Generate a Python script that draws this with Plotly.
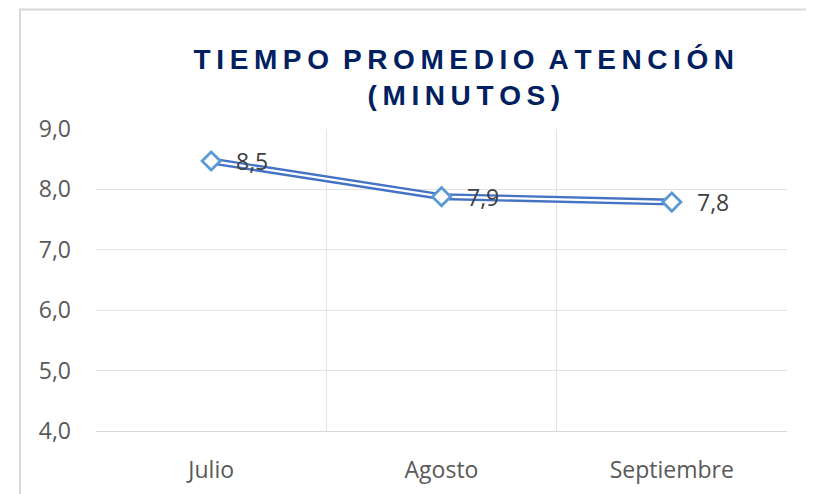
import plotly.graph_objects as go

# chart data
months = ["Julio", "Agosto", "Septiembre"]
avg_minutes = [8.47, 7.88, 7.79]
y_ticks = [4.0, 5.0, 6.0, 7.0, 8.0, 9.0]

TITLE_LINES = ["TIEMPO PROMEDIO ATENCIÓN", "(MINUTOS)"]


def spaced(text, gap="\u2009"):
    """Fake letter spacing with thin spaces between letters."""
    return gap.join(text).replace(gap + " " + gap, "\u2002")


fig = go.Figure()

# Excel "double" line: thick blue line with a thin white core
fig.add_trace(go.Scatter(
    x=months, y=avg_minutes, mode="lines",
    line=dict(color="#4472C4", width=7),
    hoverinfo="skip", showlegend=False,
))
fig.add_trace(go.Scatter(
    x=months, y=avg_minutes, mode="lines",
    line=dict(color="white", width=2.3),
    hoverinfo="skip", showlegend=False,
))
fig.add_trace(go.Scatter(
    x=months, y=avg_minutes, mode="markers",
    marker=dict(symbol="diamond", size=14, color="white",
                line=dict(color="#5B9BD5", width=2.8)),
    showlegend=False,
))

for m, v in zip(months, avg_minutes):
    fig.add_annotation(
        x=m, y=v, text=f"{v:.1f}".replace(".", ","),
        xanchor="left", yanchor="middle", xshift=23, showarrow=False,
        font=dict(family="Open Sans", size=23, color="#404040"),
    )

# outer chart frame (only top/left edges visible in the crop)
fig.add_shape(type="rect", xref="paper", yref="paper",
              x0=-0.11, x1=1.2, y0=-0.4, y1=1.396,
              line=dict(color="#D9D9D9", width=2), layer="below")

fig.update_layout(
    width=814, height=494,
    margin=dict(l=88, r=35, t=121, b=71),
    paper_bgcolor="white", plot_bgcolor="white",
    separators=",.",
    title=dict(
        text="<br>".join(spaced(t) for t in TITLE_LINES),
        x=0.56, xanchor="center", y=0.877, yanchor="middle",
        font=dict(family="Liberation Sans", size=28, color="#002060", weight="bold"),
    ),
    xaxis=dict(
        type="category", tickson="boundaries", ticks="",
        showgrid=True, gridcolor="#E3E3E3", gridwidth=1,
        showline=True, linecolor="#D9D9D9", linewidth=1,
        tickfont=dict(family="Open Sans", size=23, color="#595959"),
        ticklabelstandoff=18, range=[-0.5, 2.5],
    ),
    yaxis=dict(
        range=[4, 9], tickvals=y_ticks, tickformat=".1f",
        showgrid=True, gridcolor="#E3E3E3", gridwidth=1,
        zeroline=False, ticks="",
        tickfont=dict(family="Open Sans", size=23, color="#595959"),
        ticklabelstandoff=24,
    ),
)

fig.write_html("out.html")
